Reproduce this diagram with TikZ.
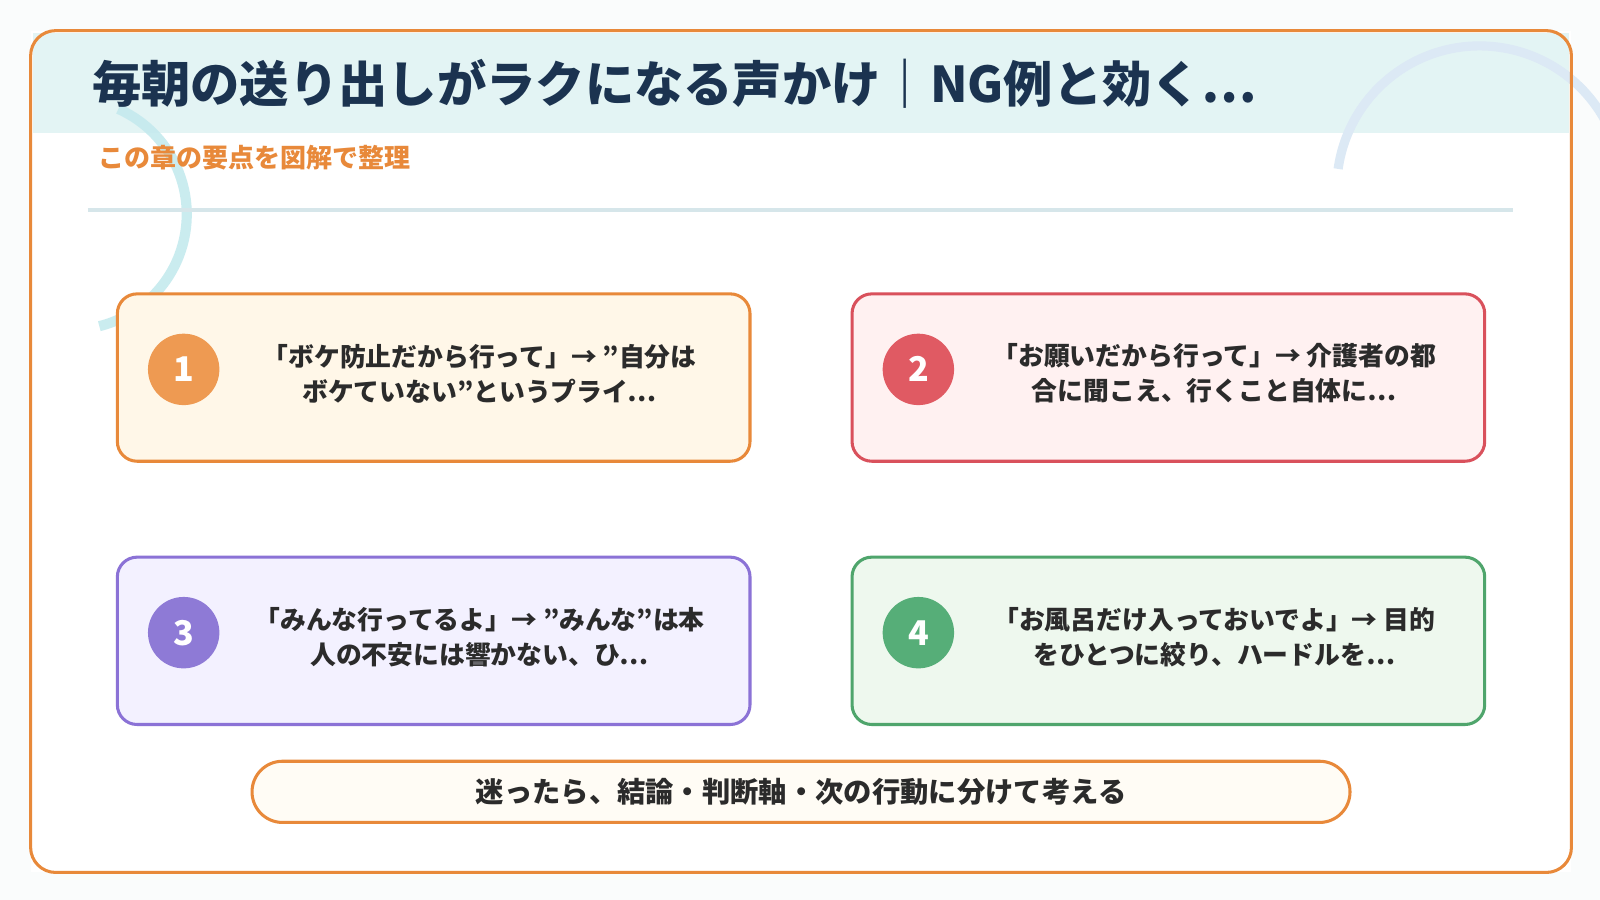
\documentclass[tikz,border=0pt]{standalone}
\usepackage{fontspec}
\setmainfont{Noto Sans CJK JP}[BoldFont={Noto Sans CJK JP Black}]
\begin{document}
\definecolor{org}{HTML}{E8893A}
\definecolor{navy}{HTML}{1B3350}
\definecolor{txt}{HTML}{2B2B2B}
\definecolor{bg}{HTML}{FAFCFC}
\definecolor{band}{HTML}{E3F4F4}
\definecolor{arcA}{HTML}{C5EAEE}
\definecolor{arcB}{HTML}{DCE9F5}
\definecolor{rule}{HTML}{D6E6EA}
\newcommand{\dq}{\symbol{34}}
\begin{tikzpicture}[x=0.02cm,y=-0.02cm,
 card/.style={draw, line width=3pt*0.567, rounded corners=11pt, minimum width=620*0.02cm, minimum height=164*0.02cm},
 num/.style={circle, minimum size=70*0.02cm, text=white, font=\fontsize{19}{19}\selectfont\bfseries},
 body/.style={text=txt, align=center, font=\fontsize{14.4}{19.5}\selectfont\bfseries}]
\useasboundingbox (0,0) rectangle (1568,882);
\fill[bg] (0,0) rectangle (1568,882);
\fill[white] (30,30) rectangle (1540,855);
\fill[band] (32,32) rectangle (1538,130);
\begin{scope}
\clip (0,0) rectangle (1568,882);
\draw[arcA, line width=10*0.567pt, opacity=0.9] (70,210) ++(-66:113) arc[start angle=-66, end angle=76, radius=113];
\draw[arcB, line width=9*0.567pt] (1450,185) ++(-172:140) arc[start angle=-172, end angle=-20, radius=140];
\end{scope}
\draw[org, line width=3*0.567pt, rounded corners=14pt] (30,30) rectangle (1540,855);
\node[anchor=west, text=navy, font=\fontsize{27.5}{27}\selectfont\bfseries] (title) at (84,82) {毎朝の送り出しがラクになる声かけ｜NG例と効く…};
\node[anchor=west, text=org, font=\fontsize{14.5}{14}\selectfont\bfseries] (sub) at (90,155) {この章の要点を図解で整理};
\draw[rule, line width=4*0.567pt] (86,206) -- (1483,206);

\node[card, draw=org, fill={rgb,255:red,255;green,247;blue,232}] (c1) at (425,370) {};
\node[num, fill={rgb,255:red,238;green,154;blue,82}] (n1) at (180,362) {1};
\node[body] (t1) at (470,366) {「ボケ防止だから行って」→ \dq 自分は\\ボケていない\dq というプライ…};

\node[card, draw={rgb,255:red,217;green,81;blue,92}, fill={rgb,255:red,255;green,241;blue,241}] (c2) at (1145,370) {};
\node[num, fill={rgb,255:red,224;green,90;blue,99}] (n2) at (900,362) {2};
\node[body] (t2) at (1190,366) {「お願いだから行って」→ 介護者の都\\合に聞こえ、行くこと自体に…};

\node[card, draw={rgb,255:red,139;green,114;blue,214}, fill={rgb,255:red,243;green,241;blue,255}] (c3) at (425,628) {};
\node[num, fill={rgb,255:red,142;green,122;blue,214}] (n3) at (180,620) {3};
\node[body] (t3) at (470,624) {「みんな行ってるよ」→ \dq みんな\dq は本\\人の不安には響かない、ひ…};

\node[card, draw={rgb,255:red,79;green,165;blue,108}, fill={rgb,255:red,238;green,248;blue,238}] (c4) at (1145,628) {};
\node[num, fill={rgb,255:red,86;green,174;blue,120}] (n4) at (900,620) {4};
\node[body] (t4) at (1190,624) {「お風呂だけ入っておいでよ」→ 目的\\をひとつに絞り、ハードルを…};

\node[draw=org, line width=3*0.567pt, rounded corners=17pt, fill={rgb,255:red,255;green,252;blue,245}, minimum width=1076*0.02cm, minimum height=60*0.02cm, text=txt, font=\fontsize{15.8}{15.8}\selectfont\bfseries] (bot) at (785,776) {迷ったら、結論・判断軸・次の行動に分けて考える};
\end{tikzpicture}
\end{document}
